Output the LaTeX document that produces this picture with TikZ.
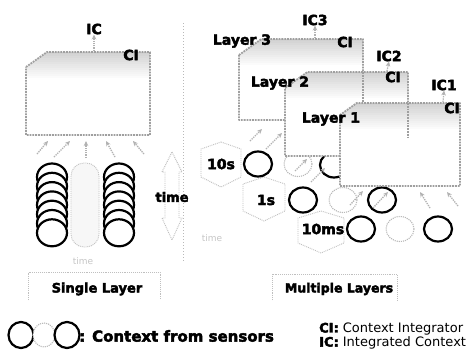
\documentclass[tikz,border=0pt]{standalone}
\usepackage{fontspec}
\setmainfont{DejaVu Sans}[BoldFeatures={FakeBold=3}]
\usetikzlibrary{arrows.meta,shapes.geometric}
\tikzset{
  lbl/.style={font=\fontsize{14}{16}\selectfont\bfseries, inner sep=0pt},
  frameline/.style={draw=gray!75, line width=1.8pt, densely dotted, line join=round},
  sens/.style={ellipse, draw=black, line width=2.2pt, fill=white, minimum width=28pt, minimum height=25pt, inner sep=0pt},
  ghost/.style={ellipse, draw=gray!55, line width=1.1pt, densely dotted, fill=white, minimum width=28pt, minimum height=25pt, inner sep=0pt},
  garrow/.style={draw=gray!60, line width=1.3pt, densely dotted, -{Stealth[length=5pt,width=4.5pt]}},
  faintline/.style={draw=gray!55, line width=1pt, dotted},
  faintshape/.style={draw=gray!50, line width=0.9pt, densely dotted, line join=round},
  fainttext/.style={text=gray!45, font=\fontsize{9}{10}\selectfont, inner sep=0pt},
}
\newcommand\ctxframe[5]{% left, top, right, bottom, slantheight
  \begin{scope}
    \clip (#1,#2+#5) -- (#1+#5*1.4,#2) -- (#3,#2) -- (#3,#4) -- (#1,#4) -- cycle;
    \fill[white] (#1,#2) rectangle (#3,#4);
    \foreach \j in {0,...,13} {
      \pgfmathtruncatemacro\gv{36-\j*2.7}
      \fill[gray!\gv] (#1,#2+2*\j) rectangle (#3,#2+2*\j+2.2);
    }
  \end{scope}
  \draw[frameline] (#1,#2+#5) -- (#1+#5*1.4,#2) -- (#3,#2) -- (#3,#4) -- (#1,#4) -- cycle;
}
\newcommand\hexarrow[4]{% cx, top, bottom, halfwidth
  \draw[faintshape] (#1,#2) -- (#1+#4,#2+7) -- (#1+#4,#3-10) -- (#1,#3) -- (#1-#4,#3-10) -- (#1-#4,#2+7) -- cycle;
}
\begin{document}
\begin{tikzpicture}[x=1pt,y=-1pt]
\useasboundingbox (0,0) rectangle (469,351);
\fill[white] (0,0) rectangle (469,351);

% separator
\draw[faintline] (183,23) -- (183,262);

% ---------------- left panel ----------------
\draw[faintshape] (172,152) -- (182,172) -- (179,172) -- (179,218) -- (182,218) -- (172,240) -- (162,218) -- (165,218) -- (165,172) -- (162,172) -- cycle;
\node[lbl, font=\fontsize{13}{14}\selectfont\bfseries] (timeL) at (172,197) {time};

\foreach \i in {0,...,6} {
  \node[sens, minimum width=30pt, minimum height=27pt] (ls\i) at (52,177+9.3*\i) {};
}
\draw[faintshape, fill=gray!6, rounded corners=13pt] (71,163) rectangle (99,247);
\foreach \i in {0,...,6} {
  \node[sens, minimum width=30pt, minimum height=27pt] (rs\i) at (119,177+9.3*\i) {};
}
\node[fainttext] (ftL) at (83,261) {time};

\ctxframe{26}{52}{150}{135}{15}
\node[lbl] (ciL) at (131,55) {CI};
\node[lbl] (icL) at (94,29) {IC};
\coordinate (icLb) at (94,51);
\draw[garrow] (icLb) -- (icL.south);

\coordinate (p1a) at (37,154); \coordinate (p1b) at (48,141);
\coordinate (p2a) at (54,157); \coordinate (p2b) at (70,141);
\coordinate (p3a) at (86,158); \coordinate (p3b) at (86,141);
\coordinate (p4a) at (115,157); \coordinate (p4b) at (106,141);
\coordinate (p5a) at (144,154); \coordinate (p5b) at (133,141);
\foreach \k in {1,...,5} { \draw[garrow] (p\k a) -- (p\k b); }

\draw[faintshape] (28,300) -- (28,272) -- (160,272) -- (160,300);
\node[lbl, font=\fontsize{13}{14}\selectfont\bfseries] (single) at (97,289) {Single Layer};

% ---------------- right panel ----------------
\hexarrow{221}{142}{187}{20}
\node[lbl] (t10s) at (221,164) {10s};
\hexarrow{264}{177}{221}{21}
\node[lbl] (t1s) at (266,200) {1s};
\hexarrow{321}{211}{253}{23}
\node[lbl] (t10ms) at (323,229) {10ms};
\node[fainttext] (ftR) at (212,238) {time};

\node[sens] (s10a) at (258,164) {};
\node[ghost] (s10b) at (298,164) {};
\node[sens] (s10c) at (334,165) {};
\node[sens] (s1a) at (303,200) {};
\node[ghost] (s1b) at (343,200) {};
\node[sens] (s1c) at (382,200) {};
\node[sens] (smsa) at (361,229) {};
\node[ghost] (smsb) at (400,229) {};
\node[sens] (smsc) at (438,229) {};

\coordinate (a1a) at (250,141); \coordinate (a1b) at (262,129);
\coordinate (a2a) at (266,149); \coordinate (a2b) at (282,133);
\coordinate (a3a) at (295,171); \coordinate (a3b) at (307,159);
\coordinate (a4a) at (311,182); \coordinate (a4b) at (325,168);
\coordinate (a5a) at (350,205); \coordinate (a5b) at (363,191);
\coordinate (a6a) at (373,208); \coordinate (a6b) at (388,192);
\coordinate (a7a) at (430,208); \coordinate (a7b) at (420,192);
\coordinate (a8a) at (458,206); \coordinate (a8b) at (447,192);
\foreach \k in {1,...,8} { \draw[garrow] (a\k a) -- (a\k b); }

\ctxframe{239}{39}{363}{120}{16}
\ctxframe{285}{72}{408}{156}{16}
\draw[frameline] (363,72) -- (363,103);
\ctxframe{340}{103}{460}{186}{12}
\draw[frameline] (408,103) -- (408,137);

\node[lbl] (lay3) at (242,41) {Layer 3};
\node[lbl] (lay2) at (280,83) {Layer 2};
\node[lbl] (lay1) at (331,119) {Layer 1};
\node[lbl] (ci3) at (345,42) {CI};
\node[lbl] (ci2) at (393,77) {CI};
\node[lbl] (ci1) at (452,108) {CI};
\node[lbl] (ic3) at (315,20) {IC3};
\node[lbl] (ic2) at (389,56) {IC2};
\node[lbl] (ic1) at (444,85) {IC1};
\coordinate (ic3b) at (315,38);
\coordinate (ic2b) at (387,71);
\coordinate (ic1b) at (443,102);
\draw[garrow] (ic3b) -- (ic3.south);
\draw[garrow] (ic2b) -- (ic2.south);
\draw[garrow] (ic1b) -- (ic1.south);

\draw[faintshape] (272,300) -- (272,274) -- (397,274) -- (397,300);
\node[lbl, font=\fontsize{12.5}{14}\selectfont\bfseries] (multi) at (339,289) {Multiple Layers};

% ---------------- legend ----------------
\node[sens, minimum width=25pt, minimum height=26pt] (lg1) at (21,335) {};
\node[ghost, minimum width=22pt, minimum height=24pt] (lg2) at (44,335) {};
\node[sens, minimum width=25pt, minimum height=26pt] (lg3) at (67,335) {};
\node[lbl, anchor=west, font=\fontsize{15}{16}\selectfont\bfseries] (lgt) at (79,336) {: Context from sensors};
\node[anchor=west, inner sep=0pt, font=\fontsize{13}{14}\selectfont] (ciDef) at (319,329) {\textbf{CI:} Context Integrator};
\node[anchor=west, inner sep=0pt, font=\fontsize{13}{14}\selectfont] (icDef) at (319,343) {\textbf{IC:} Integrated Context};
\end{tikzpicture}
\end{document}
